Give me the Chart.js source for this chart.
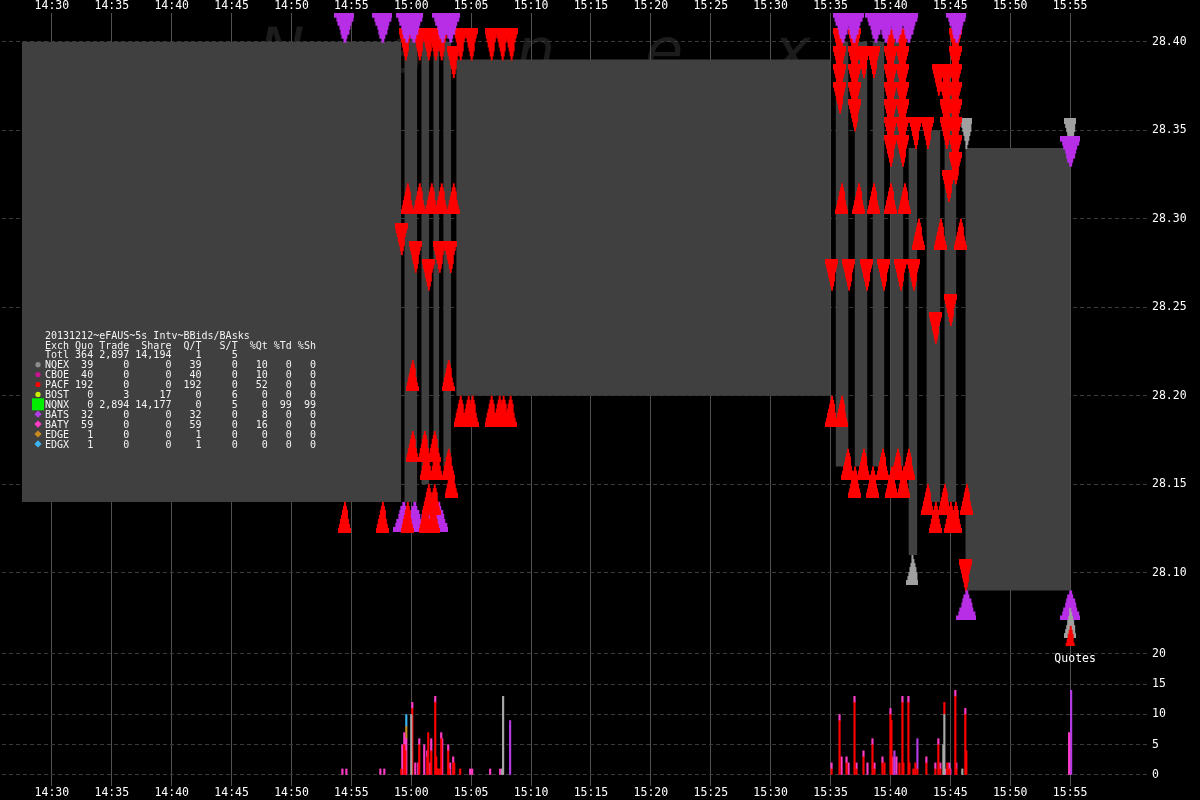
<!DOCTYPE html>
<html>
<head>
<meta charset="utf-8">
<title>Nanex eFAUS bids/asks</title>
<script src="https://cdn.jsdelivr.net/npm/chart.js@4.4.1/dist/chart.umd.min.js"></script>
<style>
  html, body { margin: 0; padding: 0; background: #000; }
  canvas { display: block; }
</style>
</head>
<body>
<canvas id="chart" width="1200" height="800"></canvas>
<script>
// ---- axes ----
const xTickLabels = ['14:30','14:35','14:40','14:45','14:50','14:55','15:00','15:05','15:10',
                     '15:15','15:20','15:25','15:30','15:35','15:40','15:45','15:50','15:55'];
const priceTicks = [28.10, 28.15, 28.20, 28.25, 28.30, 28.35, 28.40];
const quoteTicks = [0, 5, 10, 15, 20];

// ---- NBBO band (gray), one entry per steady stretch ----
const bandStart = ['14:27:30','14:59:25','15:00:50','15:01:50','15:02:40','15:03:45','15:35:25',
                   '15:37:00','15:38:30','15:40:00','15:41:30','15:43:00','15:44:30','15:46:15'];
const bandEnd   = ['14:59:10','15:00:30','15:01:30','15:02:20','15:03:20','15:35:00','15:36:30',
                   '15:38:05','15:39:30','15:41:05','15:42:15','15:44:10','15:45:30','15:55:00'];
const bandAsk   = [28.40, 28.40, 28.40, 28.40, 28.40, 28.39, 28.40, 28.40, 28.40, 28.40, 28.34, 28.35, 28.37, 28.34];
const bandBid   = [28.14, 28.14, 28.15, 28.17, 28.16, 28.20, 28.16, 28.16, 28.16, 28.16, 28.11, 28.14, 28.14, 28.09];

// ---- quotes (triangles) ----
const redAskTimes = [
  '14:59:30','15:00:40','15:01:25','15:02:00','15:02:30','15:03:30','15:04:05','15:05:00','15:06:40','15:07:35','15:08:20',
  '14:59:10','15:00:20','15:01:25','15:02:20','15:03:15',
  '15:35:45','15:35:45','15:35:45','15:35:45',
  '15:37:00','15:37:00','15:37:00','15:37:00','15:37:00',
  '15:37:45','15:38:35',
  '15:40:00','15:40:00','15:40:00','15:40:00','15:40:00','15:40:00','15:40:00',
  '15:41:00','15:41:00','15:41:00','15:41:00','15:41:00','15:41:00','15:41:00',
  '15:42:05','15:43:05','15:44:00',
  '15:44:40','15:44:40','15:44:40','15:44:40',
  '15:45:25','15:45:25','15:45:25','15:45:25','15:45:25','15:45:25','15:45:25','15:45:25',
  '15:44:50','15:43:45','15:45:00',
  '15:35:05','15:36:30','15:38:00','15:39:25','15:40:50','15:41:55',
  '15:46:15'];
const redAskPrices = [
  28.39, 28.39, 28.39, 28.39, 28.39, 28.38, 28.39, 28.39, 28.39, 28.39, 28.39,
  28.28, 28.27, 28.26, 28.27, 28.27,
  28.39, 28.38, 28.37, 28.36,
  28.39, 28.38, 28.37, 28.36, 28.35,
  28.38, 28.38,
  28.39, 28.38, 28.37, 28.36, 28.35, 28.34, 28.33,
  28.39, 28.38, 28.37, 28.36, 28.35, 28.34, 28.33,
  28.34, 28.34, 28.37,
  28.37, 28.36, 28.35, 28.34,
  28.39, 28.38, 28.37, 28.36, 28.35, 28.34, 28.33, 28.32,
  28.31, 28.23, 28.24,
  28.26, 28.26, 28.26, 28.26, 28.26, 28.26,
  28.09];

const redBidTimes = [
  '14:54:25','14:57:35','14:59:40',
  '14:59:40','15:00:40','15:01:40','15:02:30','15:03:30',
  '15:00:05','15:03:05',
  '15:00:05','15:01:05','15:01:55',
  '15:01:15','15:02:05','15:03:05',
  '15:03:20',
  '15:01:25','15:01:55',
  '15:01:10','15:01:50',
  '15:04:05','15:04:45','15:05:05','15:06:40','15:07:20','15:07:40','15:08:15',
  '15:35:55','15:37:20','15:38:35','15:40:00','15:41:10',
  '15:42:20','15:44:10','15:45:50',
  '15:35:05','15:35:55',
  '15:36:25','15:37:45','15:39:20','15:40:35','15:41:30',
  '15:37:00','15:38:30','15:40:05','15:41:05',
  '15:43:05','15:44:30','15:46:20',
  '15:43:45','15:45:00','15:45:25',
  '15:55:00'];
const redBidPrices = [
  28.14, 28.14, 28.14,
  28.32, 28.32, 28.32, 28.32, 28.32,
  28.22, 28.22,
  28.18, 28.18, 28.18,
  28.17, 28.17, 28.17,
  28.16,
  28.15, 28.15,
  28.14, 28.14,
  28.20, 28.20, 28.20, 28.20, 28.20, 28.20, 28.20,
  28.32, 28.32, 28.32, 28.32, 28.32,
  28.30, 28.30, 28.30,
  28.20, 28.20,
  28.17, 28.17, 28.17, 28.17, 28.17,
  28.16, 28.16, 28.16, 28.16,
  28.15, 28.15, 28.15,
  28.14, 28.14, 28.14,
  28.07];

const purpleAskTimes = ['14:54:25','14:57:35','14:59:35','15:00:10','15:02:35','15:03:15','15:36:00','15:36:55',
                        '15:38:45','15:39:35','15:40:30','15:41:30','15:45:30','15:55:00'];
const purpleAskPrices = [28.40, 28.40, 28.40, 28.40, 28.40, 28.40, 28.40, 28.40, 28.40, 28.40, 28.40, 28.40, 28.40, 28.33];
const purpleBidTimes = ['14:59:20','15:00:15','15:01:15','15:02:15','15:46:20','15:55:00'];
const purpleBidPrices = [28.14, 28.14, 28.14, 28.14, 28.09, 28.09];
const grayAskTimes = ['15:46:20','15:55:00'];
const grayAskPrices = [28.34, 28.34];
const grayBidTimes = ['15:41:50','15:55:00'];
const grayBidPrices = [28.11, 28.08];

// ---- quote counts per interval (bottom panel) ----
const grayQTimes = ['15:00:00','15:07:35','15:07:40','15:44:25','15:44:30','15:46:00'];
const grayQ      = [10, 1, 13, 5, 10, 1];
const redQTimes = ['14:59:10','14:59:25','14:59:30','15:00:05','15:00:40','15:01:20','15:01:25','15:01:40','15:02:00',
  '15:02:05','15:02:10','15:02:15','15:02:25','15:02:30','15:03:05','15:03:10','15:03:30','15:03:35','15:04:05',
  '15:35:05','15:35:45','15:36:20','15:37:00','15:37:10','15:37:45','15:38:30','15:38:40','15:39:20','15:39:30',
  '15:40:00','15:40:05','15:40:45','15:41:00','15:41:05','15:41:30','15:41:35','15:41:55','15:42:05','15:42:15',
  '15:43:00','15:43:45','15:44:00','15:44:10','15:44:30','15:44:45','15:44:55','15:45:25','15:45:30','15:46:15','15:46:20'];
const redQ = [1, 5, 4, 11, 5, 3, 7, 4, 12,
  3, 1, 1, 1, 6, 4, 1, 2, 2, 1,
  1, 9, 2, 12, 1, 3, 5, 1, 2, 2,
  10, 9, 2, 12, 2, 12, 2, 1, 2, 1,
  2, 1, 5, 1, 2, 2, 1, 13, 1, 10, 4];
const pinkQTimes = ['14:54:15','14:54:35','14:57:25','14:57:45','14:59:15','14:59:25','14:59:30','14:59:35','15:00:05',
  '15:00:20','15:00:35','15:00:40','15:01:05','15:01:20','15:01:35','15:01:40','15:02:00','15:02:30','15:02:35',
  '15:03:05','15:03:15','15:03:30','15:04:55','15:05:05','15:06:35','15:07:25',
  '15:35:05','15:35:45','15:35:55','15:36:20','15:36:30','15:37:00','15:37:10','15:37:45','15:38:05','15:38:30',
  '15:38:40','15:39:20','15:40:00','15:40:10','15:40:30','15:41:00','15:41:30','15:43:00','15:43:45','15:44:00',
  '15:44:10','15:44:35','15:44:55','15:45:00','15:45:25','15:45:30','15:46:15','15:54:55'];
const pinkQ = [1, 1, 1, 1, 5, 2, 2, 6, 1,
  2, 2, 1, 5, 1, 2, 2, 1, 1, 6,
  1, 2, 1, 1, 1, 1, 1,
  1, 1, 3, 1, 2, 1, 1, 1, 2, 1,
  1, 1, 1, 3, 3, 1, 1, 1, 1, 1,
  1, 1, 1, 1, 1, 1, 1, 7];
const purpleQTimes = ['15:08:15','15:40:20','15:42:15','15:55:05'];
const purpleQ      = [9, 4, 5, 14];
const orangeQTimes = ['14:59:35'];
const orangeQ      = [2];
const blueQTimes   = ['14:59:35'];
const blueQ        = [2];

// ---- summary table ----
const tableTitle = '20131212~eFAUS~5s Intv~BBids/BAsks';
const exchNames  = ['NQEX','CBOE','PACF','BOST','NQNX','BATS','BATY','EDGE','EDGX'];
const exchColors = ['#8c8c8c','#c8148c','#ff0000','#c8f000','#00f000','#b43ce6','#ff3cc8','#c88c1e','#3cb4f0'];
const exchMarks  = ['circle','circle','circle','circle','square','diamond','diamond','diamond','diamond'];
const quoCounts   = [39, 40, 192, 0, 0, 32, 59, 1, 1];
const tradeCounts = [0, 0, 0, 3, 2894, 0, 0, 0, 0];
const shareCounts = [0, 0, 0, 17, 14177, 0, 0, 0, 0];
const qtRatio     = [39, 40, 192, 0, 0, 32, 59, 1, 1];
const stRatio     = [0, 0, 0, 6, 5, 0, 0, 0, 0];
const pctQuotes   = [10, 10, 52, 0, 0, 8, 16, 0, 0];
const pctTrades   = [0, 0, 0, 0, 99, 0, 0, 0, 0];
const pctShares   = [0, 0, 0, 0, 99, 0, 0, 0, 0];
const totalRow    = [364, 2897, 14194, 1, 5];

// ---- helpers ----
const toMin = s => { const p = s.split(':').map(Number); return p[0] * 60 + p[1] + (p[2] || 0) / 60; };
const fmtTime = v => { const m = Math.round(v); return String(Math.floor(m / 60)).padStart(2, '0') + ':' + String(m % 60).padStart(2, '0'); };
const pts = (times, vals) => times.map((t, i) => ({ x: toMin(t), y: vals[i] }));
const MONO = '"DejaVu Sans Mono", monospace';

// stepped triangle sprite; tip sits on the canvas centre so it lands on the price
function tri(color, w, h, down) {
  const c = document.createElement('canvas');
  c.width = w; c.height = h * 2;
  const g = c.getContext('2d');
  g.fillStyle = color;
  const steps = 7, hh = h / steps;
  for (let i = 0; i < steps; i++) {
    const ww = Math.max(1, Math.round(w * (steps - i) / steps));
    const y = down ? i * hh : 2 * h - (i + 1) * hh;
    g.fillRect(Math.round((w - ww) / 2), Math.floor(y), ww, Math.ceil(hh) + 1);
  }
  g.fillRect(Math.floor(w / 2), down ? h - 2 : h, 1, 2);
  return c;
}

function quoteSet(times, prices, sprite) {
  return { type: 'scatter', data: pts(times, prices), pointStyle: sprite, pointRadius: 1,
           pointHoverRadius: 1, showLine: false, yAxisID: 'y' };
}
function quoteBars(times, vals, color) {
  return { type: 'bar', data: pts(times, vals), backgroundColor: color, borderWidth: 0,
           barThickness: 1.5, stack: 'q', yAxisID: 'yv' };
}
function bandLine(vals) {
  const out = [];
  bandStart.forEach((s, i) => {
    out.push({ x: toMin(s), y: vals[i] }, { x: toMin(bandEnd[i]), y: vals[i] }, { x: toMin(bandEnd[i]), y: null });
  });
  return out;
}

const datasets = [
  quoteSet(purpleAskTimes, purpleAskPrices, tri('#b82ee6', 20, 30, true)),
  quoteSet(redBidTimes, redBidPrices, tri('#ff0000', 13, 31, false)),
  quoteSet(grayBidTimes, grayBidPrices, tri('#a0a0a0', 12, 30, false)),
  quoteSet(purpleBidTimes, purpleBidPrices, tri('#b82ee6', 20, 30, false)),
  quoteSet(redAskTimes, redAskPrices, tri('#ff0000', 13, 31, true)),
  quoteSet(grayAskTimes, grayAskPrices, tri('#a0a0a0', 12, 30, true)),
  quoteBars(grayQTimes, grayQ, '#a8a8a8'),
  quoteBars(redQTimes, redQ, '#ff0000'),
  quoteBars(pinkQTimes, pinkQ, '#ff3cc8'),
  quoteBars(purpleQTimes, purpleQ, '#b43ce6'),
  quoteBars(orangeQTimes, orangeQ, '#c88c1e'),
  quoteBars(blueQTimes, blueQ, '#3cb4f0'),
  { type: 'line', data: bandLine(bandAsk), stepped: true, fill: '+1', backgroundColor: '#404040',
    borderColor: 'rgba(0,0,0,0)', borderWidth: 0, pointRadius: 0, yAxisID: 'y' },
  { type: 'line', data: bandLine(bandBid), stepped: true, fill: false,
    borderColor: 'rgba(0,0,0,0)', borderWidth: 0, pointRadius: 0, yAxisID: 'y' }
];

// background + faint watermark
const backdrop = {
  id: 'backdrop',
  beforeDraw(chart) {
    const ctx = chart.ctx;
    ctx.save();
    ctx.fillStyle = '#000';
    ctx.fillRect(0, 0, chart.width, chart.height);
    ctx.fillStyle = '#1c1c1c';
    ctx.font = 'italic 62px "DejaVu Sans", sans-serif';
    ctx.textBaseline = 'alphabetic';
    const letters = ['N', 'a', 'n', 'e', 'x'];
    letters.forEach((ch, i) => ctx.fillText(ch, 258 + i * 129, 72));
    ctx.restore();
  }
};

// summary table and panel caption
const summary = {
  id: 'summary',
  afterDatasetsDraw(chart) {
    const ctx = chart.ctx;
    const widths = [4, 6, 7, 5, 6, 5, 4, 4];
    const row = (name, cells) => name + cells.map((c, i) => String(c).padStart(widths[i])).join('');
    const n = v => v.toLocaleString('en-US');
    const lines = [
      tableTitle,
      row('Exch', ['Quo', 'Trade', 'Share', 'Q/T', 'S/T', '%Qt', '%Td', '%Sh']),
      row('Totl', [n(totalRow[0]), n(totalRow[1]), n(totalRow[2]), totalRow[3], totalRow[4], '', '', ''])
    ];
    exchNames.forEach((e, i) => lines.push(row(e, [n(quoCounts[i]), n(tradeCounts[i]), n(shareCounts[i]),
      n(qtRatio[i]), stRatio[i], pctQuotes[i], pctTrades[i], pctShares[i]])));
    ctx.save();
    ctx.font = '10px ' + MONO;
    ctx.fillStyle = '#f4f4f4';
    ctx.textBaseline = 'alphabetic';
    lines.forEach((l, i) => ctx.fillText(l, 45, 338.6 + i * 9.9));
    exchNames.forEach((e, i) => {
      const cy = 335 + (i + 3) * 9.9, cx = 38;
      ctx.fillStyle = exchColors[i];
      ctx.beginPath();
      if (exchMarks[i] === 'circle') {
        ctx.arc(cx, cy, 2.6, 0, Math.PI * 2);
      } else if (exchMarks[i] === 'square') {
        ctx.rect(cx - 6, cy - 6, 12, 12);
      } else {
        ctx.moveTo(cx, cy - 3.6); ctx.lineTo(cx + 3.6, cy); ctx.lineTo(cx, cy + 3.6); ctx.lineTo(cx - 3.6, cy);
      }
      ctx.fill();
    });
    const xs = chart.scales.x;
    ctx.fillStyle = '#fff';
    ctx.font = '11.5px ' + MONO;
    ctx.textAlign = 'center';
    ctx.textBaseline = 'middle';
    ctx.fillText('Quotes', xs.getPixelForValue(toMin('15:55:25')), 659);
    ctx.restore();
  }
};

const tickFont = { family: MONO, size: 11.5 };
const xTicks = xTickLabels.map(toMin);
const xMin = toMin('14:25:50'), xMax = toMin('16:01:25');
const timeAxis = (position, height, showGrid) => ({
  type: 'linear', position, min: xMin, max: xMax, offset: false,
  afterBuildTicks: s => { s.ticks = xTicks.map(v => ({ value: v })); },
  afterFit: s => { s.height = height; },
  ticks: { color: '#fff', font: tickFont, padding: 0, maxRotation: 0, autoSkip: false, callback: v => fmtTime(v) },
  grid: { display: showGrid, offset: false, color: '#505050', lineWidth: 1, drawTicks: false },
  border: { display: false }
});

new Chart(document.getElementById('chart'), {
  type: 'scatter',
  data: { datasets },
  options: {
    responsive: false,
    animation: false,
    events: [],
    layout: { padding: 0 },
    plugins: { legend: { display: false }, tooltip: { enabled: false } },
    scales: {
      x: timeAxis('bottom', 14, true),
      xt: timeAxis('top', 13, false),
      y: {
        type: 'linear', position: 'right', stack: 'right', stackWeight: 633,
        min: 28.058588, max: 28.416215,
        afterBuildTicks: s => { s.ticks = priceTicks.map(v => ({ value: v })); },
        afterFit: s => { s.width = 53; },
        ticks: { color: '#fff', font: tickFont, padding: 5, autoSkip: false, callback: v => v.toFixed(2) },
        grid: { color: '#3a3a3a', drawTicks: false },
        border: { display: false, dash: [4, 3] }
      },
      yv: {
        type: 'linear', position: 'right', stack: 'right', stackWeight: 140, stacked: true,
        min: -1.82, max: 21.32,
        afterBuildTicks: s => { s.ticks = quoteTicks.map(v => ({ value: v })); },
        afterFit: s => { s.width = 53; },
        ticks: { color: '#fff', font: tickFont, padding: 5, autoSkip: false, callback: v => String(v) },
        grid: { color: '#3a3a3a', drawTicks: false },
        border: { display: false, dash: [4, 3] }
      }
    }
  },
  plugins: [backdrop, summary]
});
</script>
</body>
</html>
